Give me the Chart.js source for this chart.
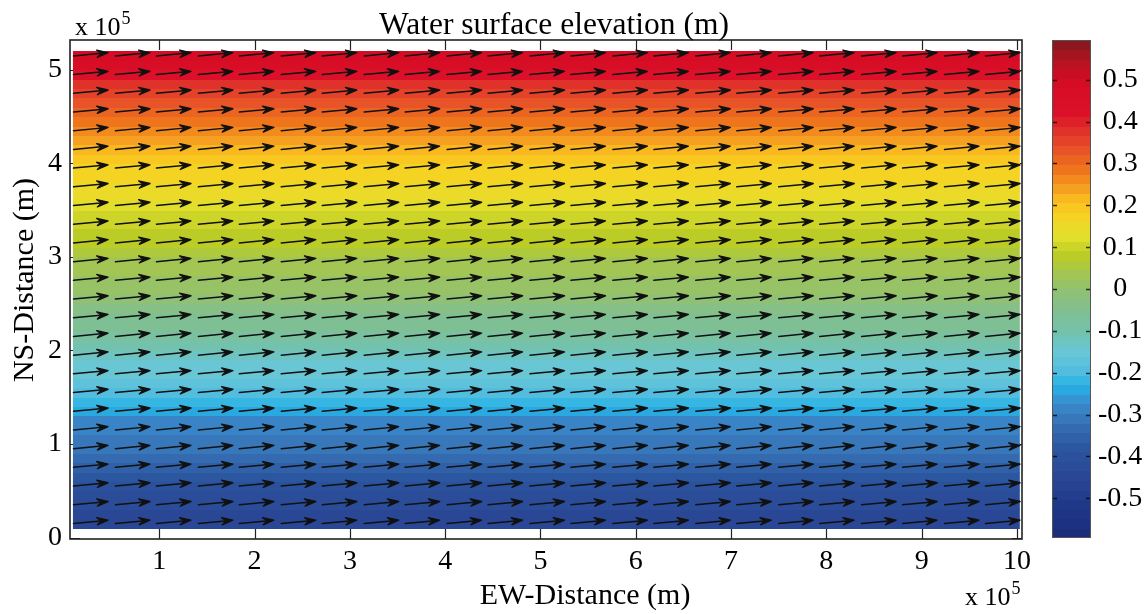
<!DOCTYPE html>
<html>
<head>
<meta charset="utf-8">
<script src="https://cdn.jsdelivr.net/npm/chart.js@4.4.1/dist/chart.umd.min.js"></script>
<style>
  body { margin: 0; background: #fff; }
  #wrap { position: relative; width: 1148px; height: 614px; }
  #chart { position: absolute; left: 0; top: 0; }
  #cbar { position: absolute; left: 1040px; top: 0; }
</style>
</head>
<body>
<div id="wrap">
  <canvas id="chart" width="1148" height="614"></canvas>
  <canvas id="cbar" width="108" height="614"></canvas>
</div>
<script>
// elevation field: one value per row (NS distance, x 10^5 m), same across EW
const rowY = [0.15, 0.25, 0.35, 0.45, 0.55, 0.65, 0.75, 0.85, 0.95, 1.05,
  1.15, 1.25, 1.35, 1.45, 1.55, 1.65, 1.75, 1.85, 1.95, 2.05,
  2.15, 2.25, 2.35, 2.45, 2.55, 2.65, 2.75, 2.85, 2.95, 3.05,
  3.15, 3.25, 3.35, 3.45, 3.55, 3.65, 3.75, 3.85, 3.95, 4.05,
  4.15, 4.25, 4.35, 4.45, 4.55, 4.65, 4.75, 4.85, 4.95, 5.05, 5.15];
const elevation = [-0.45, -0.44, -0.43, -0.42, -0.40, -0.38, -0.36, -0.34, -0.32, -0.31,
  -0.29, -0.28, -0.25, -0.22, -0.20, -0.18, -0.16, -0.14, -0.12, -0.10,
  -0.08, -0.06, -0.05, -0.03, -0.01, 0.00, 0.02, 0.03, 0.04, 0.05,
  0.07, 0.08, 0.10, 0.11, 0.12, 0.14, 0.15, 0.17, 0.18, 0.19,
  0.21, 0.23, 0.26, 0.29, 0.32, 0.34, 0.36, 0.38, 0.43, 0.46, 0.49];
const fieldXRange = [0.094, 10.03];
const rowHalf = 0.05;

// velocity arrows (tails)
const arrowX = [0.10, 0.54, 0.97, 1.41, 1.84, 2.28, 2.71, 3.15, 3.58, 4.02, 4.45, 4.89,
  5.32, 5.76, 6.19, 6.63, 7.06, 7.50, 7.93, 8.37, 8.80, 9.24, 9.67];
const arrowY = [0.15, 0.35, 0.55, 0.75, 0.95, 1.15, 1.35, 1.55, 1.75, 1.95, 2.15, 2.35, 2.55,
  2.75, 2.95, 3.15, 3.35, 3.55, 3.75, 3.95, 4.15, 4.35, 4.55, 4.75, 4.95, 5.15];
const arrowU = 0.362;
const arrowV = 0.035;

const xTicks = [1, 2, 3, 4, 5, 6, 7, 8, 9, 10];
const yTicks = [0, 1, 2, 3, 4, 5];
const cbTicks = [-0.5, -0.4, -0.3, -0.2, -0.1, 0, 0.1, 0.2, 0.3, 0.4, 0.5];

// colormap
const cmapValues = [-0.6, -0.52, -0.45, -0.38, -0.32, -0.27, -0.23, -0.2, -0.15, -0.1, -0.05, 0.0,
  0.04, 0.08, 0.13, 0.18, 0.21, 0.24, 0.28, 0.33, 0.38, 0.42, 0.5, 0.55, 0.6];
const cmapColors = ["#1a2c78", "#1e3888", "#2a4694", "#2b56a0", "#3670b4", "#3a8ecf", "#24b2e6",
  "#50bce0", "#68c6d6", "#74c2aa", "#80c090", "#92c070", "#a6c64e", "#bccc26", "#e4e02c",
  "#f8d020", "#fbc020", "#f5a020", "#f07a1a", "#e85428", "#e0302a", "#dc1028", "#d40c24",
  "#b01420", "#7a1a1e"];
const cLow = -0.595, cHigh = 0.595, nLevels = 52;

const serif = "'Liberation Serif', 'Times New Roman', serif";

function hexRgb(h) {
  return [parseInt(h.slice(1, 3), 16), parseInt(h.slice(3, 5), 16), parseInt(h.slice(5, 7), 16)];
}
const cmapRgb = cmapColors.map(hexRgb);

function colorFor(v) {
  let t = (v - cLow) / (cHigh - cLow);
  t = Math.min(Math.max(t, 0), 0.9999);
  const q = cLow + (Math.floor(t * nLevels) + 0.5) / nLevels * (cHigh - cLow);
  let i = 0;
  while (i < cmapValues.length - 2 && q > cmapValues[i + 1]) i++;
  const f = Math.min(Math.max((q - cmapValues[i]) / (cmapValues[i + 1] - cmapValues[i]), 0), 1);
  const a = cmapRgb[i], b = cmapRgb[i + 1];
  const c = a.map((av, k) => Math.round(av + (b[k] - av) * f));
  return `rgb(${c[0]},${c[1]},${c[2]})`;
}

// inside ticks + box
const framePlugin = {
  id: "frame",
  beforeDatasetsDraw(chart) {
    const { ctx, chartArea: a, scales: { x, y } } = chart;
    ctx.save();
    ctx.strokeStyle = "#222";
    ctx.lineWidth = 1.2;
    ctx.beginPath();
    xTicks.forEach((v) => {
      const px = Math.round(x.getPixelForValue(v)) + 0.5;
      ctx.moveTo(px, a.bottom); ctx.lineTo(px, a.bottom - 10);
      ctx.moveTo(px, a.top); ctx.lineTo(px, a.top + 10);
    });
    yTicks.forEach((v) => {
      const py = Math.round(y.getPixelForValue(v)) + 0.5;
      ctx.moveTo(a.left, py); ctx.lineTo(a.left + 10, py);
      ctx.moveTo(a.right, py); ctx.lineTo(a.right - 10, py);
    });
    ctx.stroke();
    ctx.restore();
  },
  afterDatasetsDraw(chart) {
    const { ctx, chartArea: a } = chart;
    ctx.save();
    ctx.strokeStyle = "#222";
    ctx.lineWidth = 1.6;
    ctx.strokeRect(a.left, a.top, a.right - a.left, a.bottom - a.top);
    ctx.restore();
  }
};

const heatmapPlugin = {
  id: "heatmap",
  beforeDatasetsDraw(chart) {
    const { ctx, scales: { x, y } } = chart;
    const left = x.getPixelForValue(fieldXRange[0]);
    const right = x.getPixelForValue(fieldXRange[1]);
    ctx.save();
    rowY.forEach((yc, i) => {
      const top = Math.floor(y.getPixelForValue(yc + rowHalf));
      const bot = Math.ceil(y.getPixelForValue(yc - rowHalf));
      ctx.fillStyle = colorFor(elevation[i]);
      ctx.fillRect(left, top, right - left, bot - top);
    });
    ctx.restore();
  }
};

const quiverPlugin = {
  id: "quiver",
  afterDatasetsDraw(chart) {
    const { ctx, scales: { x, y } } = chart;
    const meta = chart.getDatasetMeta(0);
    const data = chart.data.datasets[0].data;
    ctx.save();
    ctx.strokeStyle = "#111";
    ctx.fillStyle = "#111";
    ctx.lineCap = "round";
    ctx.lineJoin = "round";
    meta.data.forEach((pt, i) => {
      const d = data[i];
      const x0 = pt.x, y0 = pt.y;
      const x1 = x.getPixelForValue(d.x + arrowU);
      const y1 = y.getPixelForValue(d.y + arrowV);
      const ang = Math.atan2(y1 - y0, x1 - x0);
      const ca = Math.cos(ang), sa = Math.sin(ang);
      ctx.lineWidth = 1.5;
      ctx.beginPath();
      ctx.moveTo(x0, y0); ctx.lineTo(x1 - 2 * ca, y1 - 2 * sa);
      ctx.stroke();
      // barbed head
      const L = 11, W = 3.6;
      const bx = x1 - L * ca, by = y1 - L * sa;
      const nx = x1 - 0.6 * L * ca, ny = y1 - 0.6 * L * sa;
      ctx.lineWidth = 1.4;
      ctx.beginPath();
      ctx.moveTo(x1, y1);
      ctx.lineTo(bx - W * sa, by + W * ca);
      ctx.lineTo(nx, ny);
      ctx.lineTo(bx + W * sa, by - W * ca);
      ctx.closePath();
      ctx.fill();
      ctx.stroke();
    });
    ctx.restore();
  }
};

function sciLabel(ctx, x, y) {
  ctx.font = "26px " + serif;
  ctx.textAlign = "left";
  ctx.textBaseline = "alphabetic";
  ctx.fillText("x 10", x, y);
  const w = ctx.measureText("x 10").width;
  ctx.font = "18px " + serif;
  ctx.fillText("5", x + w + 1, y - 11);
}

const textPlugin = {
  id: "texts",
  afterDraw(chart) {
    const { ctx } = chart;
    ctx.save();
    ctx.fillStyle = "#000";
    ctx.textAlign = "center";
    ctx.textBaseline = "alphabetic";
    ctx.font = "31.5px " + serif;
    ctx.fillText("Water surface elevation (m)", 554, 34);
    ctx.font = "30px " + serif;
    ctx.fillText("EW-Distance (m)", 585, 604);
    ctx.save();
    ctx.translate(33, 280);
    ctx.rotate(-Math.PI / 2);
    ctx.fillText("NS-Distance (m)", 0, 0);
    ctx.restore();
    sciLabel(ctx, 75, 35);
    sciLabel(ctx, 965, 605);
    ctx.restore();
  }
};

const points = arrowY.flatMap((yv) => arrowX.map((xv) => ({ x: xv, y: yv })));

new Chart(document.getElementById("chart"), {
  type: "scatter",
  data: {
    datasets: [{ data: points, pointRadius: 0, pointHoverRadius: 0, showLine: false }]
  },
  options: {
    responsive: false,
    animation: false,
    devicePixelRatio: 1,
    layout: { padding: { left: 0, top: 40, right: 126, bottom: 0 } },
    plugins: { legend: { display: false }, tooltip: { enabled: false } },
    scales: {
      x: {
        type: "linear", min: 0.063, max: 10.053,
        afterBuildTicks: (s) => { s.ticks = xTicks.map((v) => ({ value: v })); },
        afterFit: (s) => { s.height = 75; },
        grid: { display: false, drawTicks: false },
        border: { display: false },
        ticks: { color: "#000", padding: 6, font: { family: serif, size: 28 }, maxRotation: 0 }
      },
      y: {
        type: "linear", min: -0.016, max: 5.32,
        afterBuildTicks: (s) => { s.ticks = yTicks.map((v) => ({ value: v })); },
        afterFit: (s) => { s.width = 70; },
        grid: { display: false, drawTicks: false },
        border: { display: false },
        ticks: { color: "#000", padding: 8, font: { family: serif, size: 28 } }
      }
    }
  },
  plugins: [framePlugin, heatmapPlugin, quiverPlugin, textPlugin]
});

// colorbar
const colorbarPlugin = {
  id: "colorbar",
  beforeDatasetsDraw(chart) {
    const { ctx, chartArea: a, scales: { y } } = chart;
    const step = (cHigh - cLow) / nLevels;
    ctx.save();
    for (let k = 0; k < nLevels; k++) {
      const v0 = cLow + k * step;
      const top = Math.floor(y.getPixelForValue(v0 + step));
      const bot = Math.ceil(y.getPixelForValue(v0));
      ctx.fillStyle = colorFor(v0 + step / 2);
      ctx.fillRect(a.left, top, a.right - a.left, bot - top);
    }
    ctx.strokeStyle = "rgba(0,0,0,0.75)";
    ctx.lineWidth = 1.5;
    ctx.beginPath();
    cbTicks.forEach((v) => {
      const py = Math.round(y.getPixelForValue(v)) + 0.5;
      ctx.moveTo(a.left, py); ctx.lineTo(a.left + 5, py);
      ctx.moveTo(a.right, py); ctx.lineTo(a.right - 5, py);
    });
    ctx.stroke();
    ctx.strokeStyle = "#555";
    ctx.lineWidth = 1;
    ctx.strokeRect(a.left + 0.5, a.top + 0.5, a.right - a.left - 1, a.bottom - a.top - 1);
    ctx.restore();
  }
};

new Chart(document.getElementById("cbar"), {
  type: "scatter",
  data: { datasets: [{ data: [], pointRadius: 0 }] },
  options: {
    responsive: false,
    animation: false,
    devicePixelRatio: 1,
    layout: { padding: { left: 12, top: 40, right: 0, bottom: 76 } },
    plugins: { legend: { display: false }, tooltip: { enabled: false } },
    scales: {
      x: { display: false, min: 0, max: 1 },
      y: {
        type: "linear", position: "right", min: cLow, max: cHigh,
        afterBuildTicks: (s) => { s.ticks = cbTicks.map((v) => ({ value: v })); },
        afterFit: (s) => { s.width = 57; },
        grid: { display: false, drawTicks: false },
        border: { display: false },
        ticks: {
          color: "#000", crossAlign: "center", padding: 7, font: { family: serif, size: 28 },
          callback: (v) => String(Math.round(v * 10) / 10)
        }
      }
    }
  },
  plugins: [colorbarPlugin]
});
</script>
</body>
</html>
